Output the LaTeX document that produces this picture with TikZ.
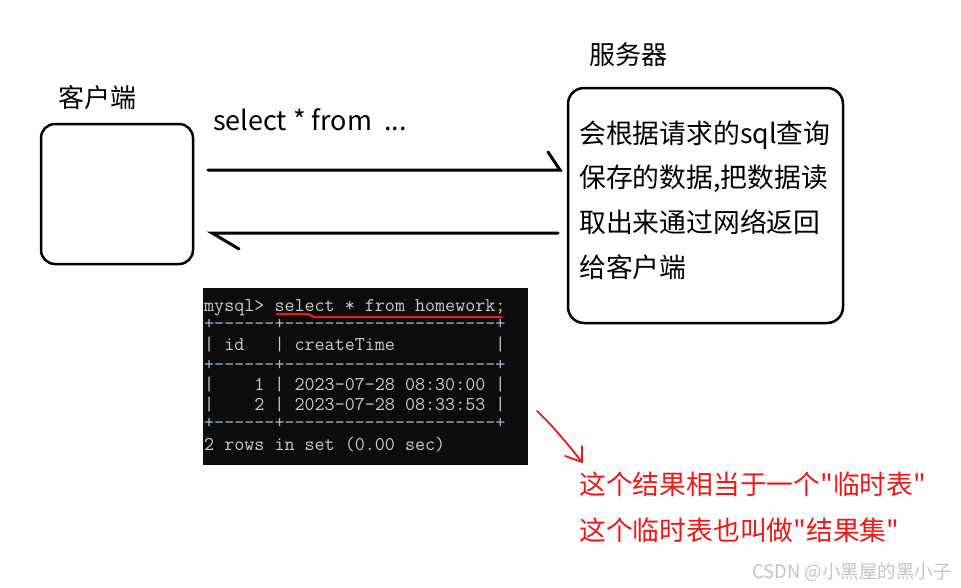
\documentclass[tikz,border=0pt]{standalone}
\usepackage{fontspec}
\setmainfont{Noto Sans CJK SC}
\newfontfamily\cjkplain{Noto Sans CJK SC}
\begin{document}
\begin{tikzpicture}[x=1pt,y=-1pt,
  box/.style={draw=black, line width=2.5pt, rounded corners=14pt, inner sep=0pt},
  lbl/.style={anchor=base west, inner sep=0pt, font=\fontsize{26}{30}\selectfont},
  srv/.style={anchor=base west, inner sep=0pt, font=\fontsize{26.8}{30}\selectfont},
  red/.style={anchor=base west, inner sep=0pt, text=redtxt, font=\cjkplain\fontsize{26.8}{30}\selectfont},
  term/.style={anchor=base west, inner sep=0pt, text=termtxt, font=\ttfamily\fontsize{19.5}{19.5}\selectfont},
  tline/.style={anchor=base west, inner sep=0pt, text=termline, font=\ttfamily\fontsize{19.5}{19.5}\selectfont},
  conn/.style={line width=3pt, line cap=round},
]
\definecolor{redtxt}{HTML}{F01818}
\definecolor{termtxt}{HTML}{CCCCCC}
\definecolor{termline}{HTML}{A9BCCF}
\definecolor{termbg}{HTML}{0C0C0C}
\definecolor{wm}{HTML}{C4C4C4}
\useasboundingbox (0,0) rectangle (961,587);
\fill[white] (0,0) rectangle (961,587);

% labels
\node[lbl] (clientlbl) at (58,107) {客户端};
\node[lbl] (serverlbl) at (589,64) {服务器};

% boxes
\node[box, minimum width=152pt, minimum height=140pt] (client) at (117,194) {};
\node[box, rounded corners=16pt, minimum width=275pt, minimum height=235pt] (server) at (705.5,205.5) {};

% server text
\node[srv] (s1) at (579,143) {会根据请求的sql查询};
\node[srv] (s2) at (579,187) {保存的数据,把数据读};
\node[srv] (s3) at (579,232) {取出来通过网络返回};
\node[srv] (s4) at (579,277) {给客户端};

% query label
\node[lbl, font=\fontsize{27}{30}\selectfont] (query) at (213,130) {select * from \ ...};

% arrows
\coordinate (r0) at (208,170);
\coordinate (r1) at (560,170);
\coordinate (r1b) at (548,152);
\coordinate (b0) at (558,233);
\coordinate (b1) at (212,233);
\coordinate (b1b) at (239,249);
\draw[conn] (r0) -- (r1) -- (r1b);
\draw[conn] (b0) -- (b1) -- (b1b);

% terminal
\node[fill=termbg, inner sep=0pt, minimum width=325pt, minimum height=177pt] (terminal) at (365.5,376.5) {};
\node[term] (t1) at (204,311) {mysql>~select~*~from~homework;};
\node[tline] (t2) at (204,329) {+------+---------------------+};
\node[term] (t3) at (204,350) {|~id~~~|~createTime~~~~~~~~~~|};
\node[tline] (t4) at (204,370) {+------+---------------------+};
\node[term] (t5) at (204,390) {|~~~~1~|~2023-07-28~08:30:00~|};
\node[term] (t6) at (204,410) {|~~~~2~|~2023-07-28~08:33:53~|};
\node[tline] (t7) at (204,428) {+------+---------------------+};
\node[term] (t8) at (204,450) {2~rows~in~set~(0.00~sec)};

% red underline
\coordinate (u0) at (277,314);
\coordinate (u1) at (308,314);
\coordinate (u2) at (314,317);
\coordinate (u3) at (502,317);
\draw[redtxt, line width=2.3pt, line cap=round, line join=round] (u0) -- (u1) -- (u2) -- (u3);

% red hand arrow
\coordinate (h0) at (537,411);
\coordinate (h1) at (582,462);
\coordinate (h2) at (582,446);
\coordinate (h3) at (565,456);
\draw[redtxt, line width=1.8pt, line cap=round, line join=round]
  (h0) .. controls (552,425) and (566,442) .. (h1);
\draw[redtxt, line width=1.8pt, line cap=round, line join=round] (h2) -- (h1) -- (h3);

% red notes
\node[red] (n1) at (579,494) {这个结果相当于一个"临时表"};
\node[red] (n2) at (579,540) {这个临时表也叫做"结果集"};

% watermark
\node[anchor=base west, inner sep=0pt, text=wm, font=\cjkplain\fontsize{18.5}{20}\selectfont] (wmark) at (752,578) {CSDN @小黑屋的黑小子};
\end{tikzpicture}
\end{document}
